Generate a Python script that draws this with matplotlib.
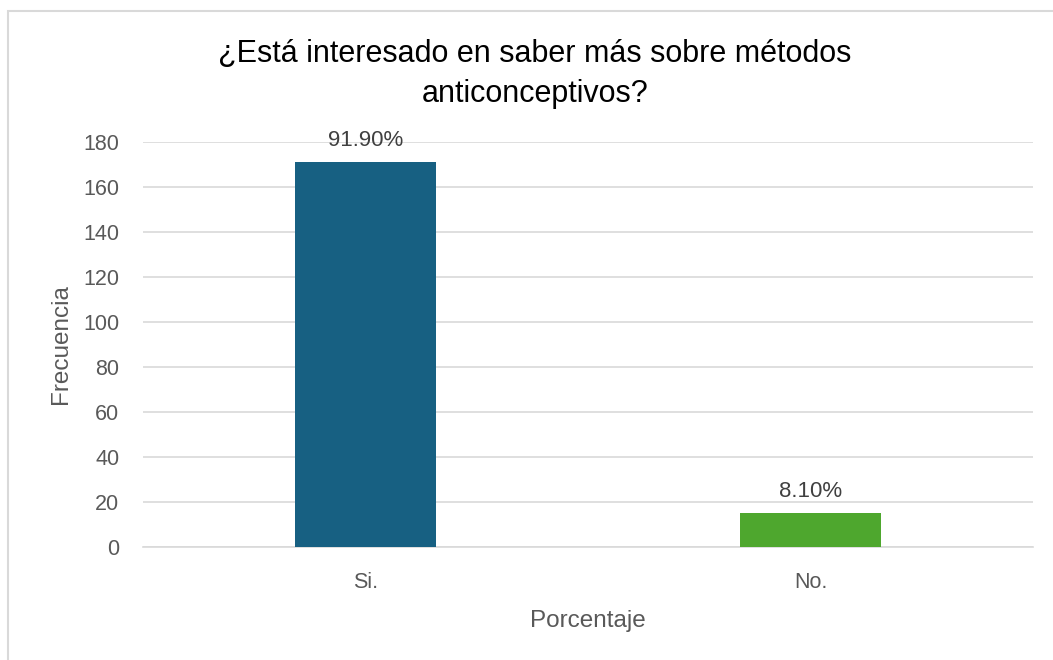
import matplotlib
matplotlib.use("Agg")
import matplotlib.pyplot as plt
from matplotlib.patches import Rectangle

# data
categories = ["Si.", "No."]
frequencies = [171, 15]
percent_labels = ["91.90%", "8.10%"]
bar_colors = ["#176082", "#4EA72E"]
y_ticks = [0, 20, 40, 60, 80, 100, 120, 140, 160, 180]

plt.rcParams["font.family"] = ["Liberation Sans", "DejaVu Sans"]
text_color = "#595959"

fig = plt.figure(figsize=(10.53, 6.6), dpi=100)
ax = fig.add_axes([0.1358, 0.1712, 0.8452, 0.6138])

x = list(range(len(categories)))
bars = ax.bar(x, frequencies, width=0.315, color=bar_colors, zorder=3)
for rect, lab in zip(bars, percent_labels):
    ax.annotate(lab, (rect.get_x() + rect.get_width() / 2, rect.get_height()),
                xytext=(0, 8), textcoords="offset points", ha="center", va="bottom",
                fontsize=16, color="#404040")

ax.set_xlim(-0.5, 1.5)
ax.set_ylim(0, 180)
ax.set_yticks(y_ticks)
ax.set_xticks(x)
ax.set_xticklabels(categories)
ax.yaxis.grid(True, color="#d9d9d9", linewidth=1.2, zorder=0)
for s in ["top", "right", "left"]:
    ax.spines[s].set_visible(False)
ax.spines["bottom"].set_color("#d9d9d9")
ax.spines["bottom"].set_linewidth(1.2)
ax.tick_params(axis="y", length=0, labelsize=15.5, labelcolor=text_color, pad=17)
ax.tick_params(axis="x", length=0, labelsize=15.5, labelcolor=text_color, pad=18)

ax.set_ylabel("Frecuencia", fontsize=17.5, color=text_color, labelpad=8)
ax.set_xlabel("Porcentaje", fontsize=17.5, color=text_color, labelpad=12)

fig.text(0.508, 0.888, "¿Está interesado en saber más sobre métodos\nanticonceptivos?",
         ha="center", va="center", fontsize=22, color="#000000", linespacing=1.45)

# outer chart frame
fig.patches.append(Rectangle((8 / 1053, -0.1), 1.2, 1.1 - 11 / 660,
                             transform=fig.transFigure, fill=False,
                             edgecolor="#d9d9d9", linewidth=1.5))

fig.savefig("out.png", dpi=100)
